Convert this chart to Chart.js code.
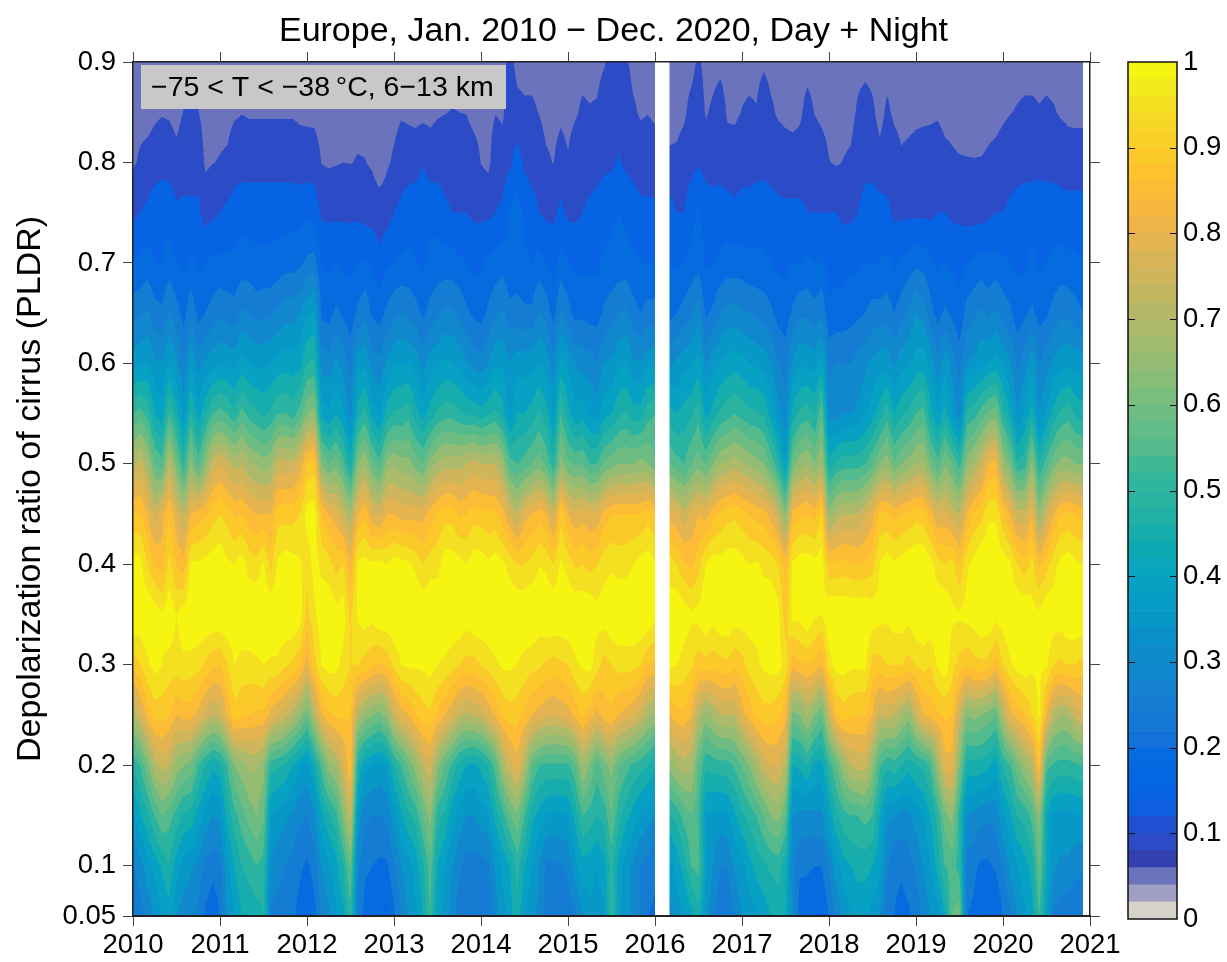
<!DOCTYPE html>
<html lang="en">
<head>
    <meta charset="UTF-8">
    <title>Europe, Jan. 2010 − Dec. 2020, Day + Night</title>
    <script src="https://cdn.jsdelivr.net/npm/chart.js@4"></script>
    <style>
        body { margin: 0; background: #fff; }
        #page { position: relative; width: 1227px; height: 962px; }
        canvas { position: absolute; top: 0; }
    </style>
</head>
<body>
    <div id="page">
        <canvas id="contourChart" width="1227" height="962" style="left:0"></canvas>
        <canvas id="colorBar" width="127" height="962" style="left:1100px"></canvas>
    </div>

    <script>
        // Axis values
        const pldrBins = [0.05, 0.1, 0.15, 0.2, 0.25, 0.3, 0.35, 0.4, 0.45, 0.5, 0.55, 0.6, 0.65, 0.7, 0.75, 0.8, 0.85, 0.9];
        const pldrTicks = [0.05, 0.1, 0.2, 0.3, 0.4, 0.5, 0.6, 0.7, 0.8, 0.9];
        const barTicks = [0, 0.1, 0.2, 0.3, 0.4, 0.5, 0.6, 0.7, 0.8, 0.9, 1];
        const months = Array.from({ length: 132 }, (_, i) => 2010 + i / 12);

        // Normalized frequency (percent), one row per PLDR bin, 12 values per year, Feb 2016 missing
        const p05 = [
            22,23,26,30,35,37,30,27,26,24,19,16,
            20,30,35,40,41,42,45,24,23,23,21,18,
            15,18,25,29,34,38,48,24,18,16,15,14,
            19,25,31,34,40,50,36,34,28,22,20,20,
            20,20,28,33,38,43,35,31,29,23,22,21,
            22,24,30,34,32,34,50,36,31,29,25,20,
            19,null,28,32,34,38,43,31,26,22,21,26,
            30,32,34,37,40,42,40,30,17,16,15,14,
            20,26,31,34,36,36,33,30,22,20,18,19,
            22,26,30,32,40,55,58,20,19,16,15,14,
            20,24,30,34,38,50,36,24,22,21,20,20];
        const p10 = [
            24,28,33,37,41,45,37,33,31,28,24,22,
            23,33,40,45,47,50,48,29,27,25,23,21,
            19,22,30,34,38,45,56,26,21,20,19,19,
            24,30,33,37,44,53,40,35,30,26,23,23,
            23,24,31,36,40,47,40,35,30,24,24,25,
            26,33,38,37,35,38,47,38,32,29,25,23,
            21,null,33,37,42,50,52,36,30,25,25,31,
            33,38,42,44,46,47,42,26,21,21,20,20,
            26,33,38,40,42,42,40,36,26,21,21,23,
            26,30,35,42,50,52,48,23,21,19,19,21,
            25,31,35,38,42,56,40,31,29,29,27,26];
        const p15 = [
            34,39,44,50,55,52,48,44,43,38,33,30,
            31,42,48,53,57,60,56,35,33,31,29,26,
            25,29,39,44,48,60,72,33,26,25,25,26,
            32,39,44,47,55,62,47,44,37,33,30,30,
            33,34,42,48,55,59,50,42,38,35,34,34,
            35,42,50,48,45,47,55,47,42,38,34,32,
            30,null,44,47,52,55,50,35,34,33,34,39,
            44,47,50,55,60,62,55,30,29,28,29,29,
            37,44,48,50,50,52,50,40,31,30,28,29,
            32,35,40,47,58,62,47,30,29,27,26,27,
            34,39,45,47,52,62,40,34,33,34,34,35];
        const p20 = [
            46,50,58,68,72,70,63,60,58,50,45,41,
            43,50,60,63,66,66,62,47,46,44,40,36,
            33,41,52,62,66,74,85,45,37,35,33,35,
            45,50,56,63,70,74,62,55,49,43,40,39,
            41,45,53,66,73,78,68,55,50,49,49,49,
            49,54,65,60,52,58,62,55,52,49,47,45,
            41,null,62,66,68,66,55,46,47,48,48,51,
            55,60,66,72,75,75,70,40,41,45,39,38,
            48,55,64,70,72,72,62,51,46,48,45,42,
            45,46,51,64,78,78,60,43,43,43,41,37,
            46,50,58,64,68,85,52,49,48,48,49,50];
        const p25 = [
            66,74,82,87,87,85,80,82,82,78,73,70,
            72,80,88,86,85,84,84,78,75,72,68,63,
            56,68,80,84,86,86,85,68,63,60,58,62,
            72,78,80,85,88,89,84,80,76,71,69,70,
            72,76,81,86,88,87,84,80,78,76,75,76,
            78,82,86,82,78,83,84,80,78,76,72,66,
            64,null,80,83,84,80,68,62,66,70,70,70,
            78,82,86,88,88,86,82,58,60,66,60,55,
            72,84,88,86,85,85,80,70,72,70,66,62,
            72,80,82,84,86,85,72,60,62,60,58,55,
            68,78,82,85,90,96,80,68,65,66,72,75];
        const p30 = [
            87,90,94,97,95,93,93,94,93,92,89,86,
            85,90,95,93,93,94,95,94,94,91,89,86,
            78,88,95,97,97,93,90,90,88,86,84,86,
            91,95,96,96,96,97,95,94,92,90,88,88,
            90,92,94,96,96,95,93,92,91,89,88,89,
            90,94,96,97,92,88,90,92,92,92,90,85,
            84,null,96,95,93,91,87,88,87,88,89,86,
            88,92,94,96,97,97,93,82,84,85,84,80,
            93,97,97,96,96,96,88,88,90,90,90,88,
            90,92,90,96,98,92,88,86,88,89,88,83,
            90,94,97,98,96,96,96,90,89,90,90,88];
        const p35 = [
            100,99,100,98,96,99,95,98,100,100,100,100,
            100,100,100,100,100,100,100,100,100,100,100,98,
            88,94,98,100,97,98,89,96,98,97,100,100,
            100,100,100,100,100,100,100,100,100,100,98,100,
            100,100,100,100,100,100,100,100,98,100,100,100,
            100,100,100,100,97,98,100,100,100,100,100,100,
            97,null,98,100,98,96,97,100,97,100,100,98,
            98,98,97,98,100,97,87,97,97,100,96,95,
            100,100,100,100,100,100,98,97,96,98,98,97,
            100,100,100,100,100,96,96,97,98,100,100,97,
            98,100,100,100,97,96,100,98,98,100,100,100];
        const p40 = [
            98,97,90,85,82,92,85,82,96,96,97,98,
            99,96,95,98,93,92,96,88,96,98,97,96,
            92,97,94,92,88,90,80,96,97,96,97,95,
            98,97,96,94,90,93,93,98,98,97,95,98,
            98,96,98,96,93,90,90,92,95,94,90,96,
            93,89,90,88,90,93,94,93,93,95,97,98,
            96,null,93,90,86,84,88,95,98,97,98,98,
            97,95,96,94,93,90,83,96,98,98,97,98,
            86,86,87,86,85,86,88,95,98,96,97,99,
            100,100,97,92,90,92,85,94,97,100,100,100,
            98,96,90,87,92,84,88,93,97,98,96,95];
        const p45 = [
            85,85,80,72,78,85,76,70,80,82,84,88,
            90,88,84,85,82,80,80,80,88,88,88,90,
            97,98,85,80,78,72,66,80,84,76,74,80,
            80,78,78,78,78,82,86,88,88,84,85,88,
            87,86,86,82,75,70,78,80,83,80,72,88,
            80,76,78,76,76,82,85,85,85,85,85,88,
            85,null,78,76,72,76,80,78,83,86,88,89,
            87,85,83,82,78,72,60,82,84,85,83,90,
            62,68,70,70,70,74,78,86,86,83,85,86,
            88,87,82,75,77,72,70,80,86,88,94,94,
            86,80,72,72,80,62,72,80,85,86,85,83];
        const p50 = [
            68,72,66,55,52,70,58,47,62,52,62,72,
            75,72,68,70,66,64,62,64,72,72,72,76,
            86,88,60,55,58,52,42,60,65,56,52,62,
            64,62,62,58,55,62,66,68,68,68,70,72,
            70,70,70,64,52,50,52,55,58,54,46,62,
            56,54,55,50,50,56,58,60,60,60,62,60,
            56,null,55,52,50,55,58,54,60,65,66,68,
            66,64,62,60,54,46,35,58,63,65,60,65,
            42,46,48,48,48,50,54,60,63,56,60,62,
            65,66,58,52,60,55,48,62,66,72,80,82,
            64,58,46,48,62,45,52,58,62,62,60,60];
        const p55 = [
            50,52,48,40,37,50,42,33,46,37,44,50,
            52,50,46,52,48,46,44,46,50,50,48,52,
            60,62,38,36,40,36,28,42,47,38,34,42,
            46,46,48,42,38,42,46,48,48,46,44,44,
            42,44,46,42,33,40,40,42,46,42,34,50,
            42,36,38,34,33,38,40,44,46,42,42,48,
            50,null,42,40,42,44,48,38,42,46,48,50,
            48,46,46,44,38,32,27,42,46,48,44,54,
            28,28,30,30,31,34,38,42,48,40,44,46,
            50,52,42,35,42,34,27,46,48,52,56,58,
            46,40,30,36,42,30,36,42,46,48,44,42];
        const p60 = [
            33,34,35,31,30,35,31,25,34,28,31,33,
            35,34,33,37,35,34,34,35,37,38,37,38,
            45,46,28,27,31,28,23,33,34,28,26,31,
            34,35,35,33,28,33,34,36,35,34,31,28,
            27,30,34,34,30,33,33,33,35,33,27,37,
            33,30,28,27,25,30,31,34,35,31,30,33,
            34,null,29,31,33,34,37,29,33,35,37,38,
            37,35,34,33,30,25,23,31,34,34,33,37,
            24,25,25,25,27,29,31,33,33,29,33,34,
            37,38,33,27,33,28,23,30,31,34,35,37,
            34,30,24,28,33,25,28,31,33,34,33,33];
        const p65 = [
            23,24,26,22,21,26,22,18,24,18,20,22,
            24,23,22,26,25,23,24,24,26,28,28,30,
            34,36,19,18,21,19,17,21,24,19,18,21,
            24,25,24,22,19,22,24,26,26,24,21,19,
            18,21,24,26,22,22,21,21,26,23,18,26,
            22,18,19,18,18,21,23,25,26,22,20,22,
            22,null,18,20,22,24,28,19,21,25,27,27,
            26,25,24,23,21,18,17,21,24,24,22,24,
            16,17,17,18,19,20,22,22,23,20,23,26,
            30,28,22,18,21,19,16,22,24,26,24,26,
            23,21,17,19,21,18,19,22,24,24,22,20];
        const p70 = [
            15,16,17,15,15,17,15,14,16,14,15,16,
            16,16,16,17,17,16,16,16,17,18,18,19,
            21,22,15,14,15,14,14,15,16,14,11,14,
            15,16,16,15,14,16,17,17,17,16,15,14,
            14,16,17,18,15,17,16,15,17,15,13,17,
            15,14,14,14,14,16,16,17,17,16,15,15,
            15,null,15,14,15,17,18,14,15,16,17,17,
            17,16,16,16,15,14,14,15,15,16,15,16,
            13,13,13,14,14,15,15,15,16,14,16,17,
            19,18,16,14,15,14,13,15,16,17,16,17,
            16,15,14,14,16,14,15,16,17,16,16,15];
        const p75 = [
            9,10,11,13,14,13,11,11,11,11,8,9,
            10,11,12,13,13,13,13,13,13,13,13,13,
            14,13,9,9,9,9,9,9,8,8,8,8,
            10,11,13,14,15,14,13,11,10,10,10,9,
            9,9,10,11,16,17,14,12,10,9,9,11,
            9,9,10,11,12,13,14,15,14,12,11,11,
            11,null,12,10,10,13,16,13,12,12,12,11,
            12,12,13,13,12,11,11,11,11,10,10,10,
            10,10,9,9,10,12,13,12,11,9,9,9,
            9,9,9,10,10,9,9,8,8,8,9,10,
            10,11,12,13,13,14,13,13,12,12,12,12];
        const p80 = [
            5.5,6.5,7,7.5,8,8,7,8,8,8,5.5,5.9,
            6.2,6.5,8,8,8,8,8,8,8,8,8,7.5,
            7.5,7.5,5.9,5.6,5.8,6,5.9,6.2,6.1,5.6,4,5.5,
            6.5,8,7.5,7.5,9.5,7.5,8,8,8,8,8,7.5,
            5.9,5.2,8,7.5,9,12,9,8,8,6.5,5.9,7.5,
            6.3,8,8,8,8,9,9,10.5,9,8.5,8,8,
            7.5,null,6.5,6.7,7.5,8.5,9.5,8,8,8.5,7.5,7.5,
            8,8,8,8.5,8,8,7.5,7.5,7.5,8,8,7.5,
            6.1,5.7,6.1,6.5,8,8.5,8,7,8,7.5,6.5,7,
            7.5,7.5,7.5,8,7,6.5,6.3,6.2,6.1,6.2,6.5,7,
            7.5,8,8,8,8,8,8,8,8,7.5,7.5,7.5];
        const p85 = [
            5,5,5,5.5,5.8,5.6,5,6.1,6.1,6.1,5,5,
            5,5,5.6,5.9,5.7,5.7,5.7,5.7,5.7,5.7,5.7,5.5,
            5.4,5.3,5,5,5,5,5,5,5,5,5,5,
            5,5.6,5.5,5.3,5,5.3,5.7,5.9,6.1,6,5.9,5,
            5,5,5.9,5.5,8.5,7,6.5,6.5,5.9,5,5,5.3,
            5,5.6,6.5,6.2,6.4,8,8,8,8,6.5,5.6,5.9,
            5.5,null,5,5,5.5,7,8,5.7,6.5,7.5,5.6,5.5,
            6.1,6.5,6.2,8,6.5,5.6,5.3,5,5.5,7,5.9,5.3,
            5,5,5,5,6.5,7.5,6.5,5,6.5,5.5,5,5,
            5.2,5.4,5.5,5.6,5,5,4.5,4.5,5,4.5,5,5,
            5.5,5.9,6.2,6.5,6.5,6.2,6.5,6.2,5.7,5.4,5.3,5.3];
        const p90 = [
            5,5,5,5,5,5,5,5,5,5,5,5,
            5,5,5,5,5,5,5,5,5,5,5,5,
            5,5,5,5,5,5,5,5,5,5,5,5,
            5,5,5,5,5,5,5,5,5,5,5,5,
            5,5,5,5,7,5,5,5,5,5,5,5,
            5,5,5,5,5,5.7,7,7,6.5,5,5,5,
            5,null,5,5,5,5,6.5,5,5,5.2,5,5,
            5,5,5,5.5,5,5,5,5,5,5,5,5,
            5,5,5,5,5,5,5,5,5,5,5,5,
            5,5,5,5,5,5,5,5,5,5,5,5,
            5,5,5,5,5,5,5,5,5,5,5,5];
        const rows = [p05, p10, p15, p20, p25, p30, p35, p40, p45, p50, p55, p60, p65, p70, p75, p80, p85, p90];

        // One colour per 0.02 wide band of the colour bar, from 0 to 1
        const levelWidth = 0.02;
        const levelColors = [
            '#d6d2ca', '#9f9fc3', '#6b73bd', '#3340b0', '#2c4cc7',
            '#2050d2', '#0d5fdf', '#0563e4', '#0468e3', '#056ce0',
            '#1272d9', '#1478d6', '#157cd3', '#1482d0', '#1187cd',
            '#0d8bcb', '#0a90c9', '#0798c8', '#079cc6', '#07a1c4',
            '#09a6bd', '#0eaab4', '#16adac', '#22b0a4', '#2ab3a0',
            '#30b69c', '#3fb993', '#52ba8d', '#62bc88', '#6fbc82',
            '#7bbd7c', '#88bd77', '#95bc73', '#a1bb6f', '#adba6b',
            '#b7b867', '#c3b661', '#cfb55b', '#d8b456', '#e3b44f',
            '#efb448', '#f7b83f', '#fcbc36', '#fdc22e', '#fcc92b',
            '#f9d028', '#f6d725', '#f4e020', '#f3e91c', '#f6f512'
        ];
        // Contour levels of the plot: coarser than the bar, each filled with the colour at its upper edge
        const contourEdges = [0.06, 0.1, 0.15, 0.2, 0.25, 0.3, 0.35, 0.4, 0.45, 0.5, 0.55, 0.6, 0.65, 0.7, 0.75, 0.8, 0.85, 0.9, 0.95, 1];

        const fontFamily = '"Liberation Sans", Arial, sans-serif';
        const lineColor = '#222';

        function hexRgb(hex) {
            return [1, 3, 5].map(i => parseInt(hex.slice(i, i + 2), 16));
        }

        // finds the grid cell on either side of a value
        function cellIndex(list, value) {
            for (let i = 0; i < list.length - 1; i++) {
                if (value >= list[i] && value <= list[i + 1]) return i;
            }
            return -1;
        }

        // Filled contours, drawn through the x and y scales of the chart
        const contourFill = {
            id: 'contourFill',
            beforeDatasetsDraw(chart) {
                const { ctx, chartArea: area, scales: { x, y } } = chart;
                const ss = 2;
                const w = Math.round(area.width * ss);
                const h = Math.round(area.height * ss);
                const off = document.createElement('canvas');
                off.width = w;
                off.height = h;
                const offCtx = off.getContext('2d');
                const img = offCtx.createImageData(w, h);
                const rgb = contourEdges.map(e => hexRgb(levelColors[Math.round(e / levelWidth) - 1]));

                const cols = [];
                for (let px = 0; px < w; px++) {
                    const v = x.getValueForPixel(area.left + (px + 0.5) / ss);
                    const i = cellIndex(months, v);
                    cols.push(i < 0 ? null : { i, t: (v - months[i]) / (months[i + 1] - months[i]) });
                }

                for (let py = 0; py < h; py++) {
                    const p = y.getValueForPixel(area.top + (py + 0.5) / ss);
                    const j = cellIndex(pldrBins, p);
                    if (j < 0) continue;
                    const s = (p - pldrBins[j]) / (pldrBins[j + 1] - pldrBins[j]);
                    const lo = rows[j];
                    const hi = rows[j + 1];
                    for (let px = 0; px < w; px++) {
                        const c = cols[px];
                        if (!c) continue;
                        const a = lo[c.i], b = lo[c.i + 1], d = hi[c.i], e = hi[c.i + 1];
                        if (a === null || b === null || d === null || e === null) continue;
                        const v = ((a * (1 - c.t) + b * c.t) * (1 - s) + (d * (1 - c.t) + e * c.t) * s) / 100;
                        let band = contourEdges.findIndex(edge => v < edge);
                        if (band < 0) band = contourEdges.length - 1;
                        const k = (py * w + px) * 4;
                        img.data[k] = rgb[band][0];
                        img.data[k + 1] = rgb[band][1];
                        img.data[k + 2] = rgb[band][2];
                        img.data[k + 3] = 255;
                    }
                }
                offCtx.putImageData(img, 0, 0);
                ctx.save();
                ctx.imageSmoothingQuality = 'high';
                ctx.drawImage(off, area.left, area.top, area.width, area.height);
                ctx.restore();
            }
        };

        // Grey label box in the upper left corner
        const rangeLabel = {
            id: 'rangeLabel',
            afterDatasetsDraw(chart) {
                const { ctx, chartArea: area } = chart;
                ctx.save();
                ctx.fillStyle = '#c8c8c8';
                ctx.fillRect(area.left + 8, area.top + 3, 365, 44);
                ctx.fillStyle = '#000';
                ctx.font = '28.5px ' + fontFamily;
                ctx.textBaseline = 'middle';
                ctx.fillText('−75 < T < −38\u2009°C, 6−13 km', area.left + 18, area.top + 26);
                ctx.restore();
            }
        };

        const contourPoints = [];
        rows.forEach((row, j) => row.forEach((v, i) => {
            if (v !== null) contourPoints.push({ x: months[i], y: pldrBins[j], v });
        }));

        function setTicks(list) {
            return axis => { axis.ticks = list.map(value => ({ value })); };
        }
        function axisGrid() {
            return { drawOnChartArea: false, drawTicks: true, tickLength: 10, color: '#444', lineWidth: 1 };
        }
        function axisBorder(width) {
            return { display: true, color: lineColor, width, z: 1 };
        }

        new Chart(document.getElementById('contourChart'), {
            type: 'scatter',
            data: {
                datasets: [{
                    label: 'Normalized frequency',
                    data: contourPoints,
                    pointRadius: 0,
                    pointHoverRadius: 0
                }]
            },
            plugins: [contourFill, rangeLabel],
            options: {
                responsive: false,
                animation: false,
                events: [],
                plugins: {
                    legend: { display: false },
                    tooltip: { enabled: false },
                    title: {
                        display: true,
                        text: 'Europe, Jan. 2010 − Dec. 2020, Day + Night',
                        color: '#000',
                        font: { family: fontFamily, size: 34, weight: 'normal', lineHeight: 1.2 },
                        padding: { top: 11, bottom: 0 }
                    }
                },
                scales: {
                    x: {
                        type: 'linear',
                        position: 'bottom',
                        min: 2010,
                        max: 2021,
                        afterBuildTicks: setTicks(months.filter((_, i) => i % 12 === 0).concat([2021])),
                        afterFit: axis => { axis.height = 46; },
                        grid: axisGrid(),
                        border: axisBorder(2),
                        ticks: {
                            autoSkip: false,
                            maxRotation: 0,
                            padding: 3,
                            color: '#000',
                            font: { family: fontFamily, size: 27.5 },
                            callback: value => String(Math.round(value))
                        }
                    },
                    xTop: {
                        type: 'linear',
                        position: 'top',
                        min: 2010,
                        max: 2021,
                        afterBuildTicks: setTicks(months.filter((_, i) => i % 12 === 0).concat([2021])),
                        afterFit: axis => { axis.height = 10.2; },
                        grid: axisGrid(),
                        border: axisBorder(1.5),
                        ticks: { display: false }
                    },
                    y: {
                        type: 'linear',
                        position: 'left',
                        min: 0.05,
                        max: 0.9,
                        afterBuildTicks: setTicks(pldrTicks),
                        afterFit: axis => { axis.width = 133; },
                        grid: axisGrid(),
                        border: axisBorder(1.5),
                        title: {
                            display: true,
                            text: 'Depolarization ratio of cirrus (PLDR)',
                            color: '#000',
                            font: { family: fontFamily, size: 34, weight: 'normal', lineHeight: 1.2 },
                            padding: { top: 10, bottom: 0 }
                        },
                        ticks: {
                            autoSkip: false,
                            padding: 7,
                            color: '#000',
                            font: { family: fontFamily, size: 27.5 },
                            callback: value => String(value)
                        }
                    },
                    yRight: {
                        type: 'linear',
                        position: 'right',
                        min: 0.05,
                        max: 0.9,
                        afterBuildTicks: setTicks(pldrTicks),
                        afterFit: axis => { axis.width = 137; },
                        grid: axisGrid(),
                        border: axisBorder(1.5),
                        ticks: { display: false }
                    }
                }
            }
        });

        // Inner tick marks and frame of the colour bar
        const barFrame = {
            id: 'barFrame',
            afterDraw(chart) {
                const { ctx, chartArea: area, scales: { y } } = chart;
                ctx.save();
                ctx.strokeStyle = '#111';
                ctx.lineWidth = 1;
                barTicks.slice(1, -1).forEach(value => {
                    const py = Math.round(y.getPixelForValue(value)) + 0.5;
                    ctx.beginPath();
                    ctx.moveTo(area.left, py);
                    ctx.lineTo(area.left + 7, py);
                    ctx.moveTo(area.right - 7, py);
                    ctx.lineTo(area.right, py);
                    ctx.stroke();
                });
                ctx.lineWidth = 1.5;
                ctx.strokeRect(area.left, area.top, area.width, area.height);
                ctx.restore();
            }
        };

        new Chart(document.getElementById('colorBar'), {
            type: 'bar',
            data: {
                labels: ['level'],
                datasets: levelColors.map(color => ({
                    data: [levelWidth],
                    backgroundColor: color,
                    borderWidth: 0,
                    barPercentage: 1,
                    categoryPercentage: 1
                }))
            },
            plugins: [barFrame],
            options: {
                responsive: false,
                animation: false,
                events: [],
                layout: { padding: { left: 28, top: 62, bottom: 43 } },
                plugins: { legend: { display: false }, tooltip: { enabled: false } },
                scales: {
                    x: { stacked: true, display: false },
                    y: {
                        stacked: true,
                        position: 'right',
                        min: 0,
                        max: 1,
                        afterBuildTicks: setTicks(barTicks),
                        afterFit: axis => { axis.width = 50; },
                        grid: { display: false },
                        border: { display: false },
                        ticks: {
                            autoSkip: false,
                            padding: -2,
                            color: '#000',
                            font: { family: fontFamily, size: 27.5 },
                            callback: value => String(value)
                        }
                    }
                }
            }
        });
    </script>
</body>
</html>
